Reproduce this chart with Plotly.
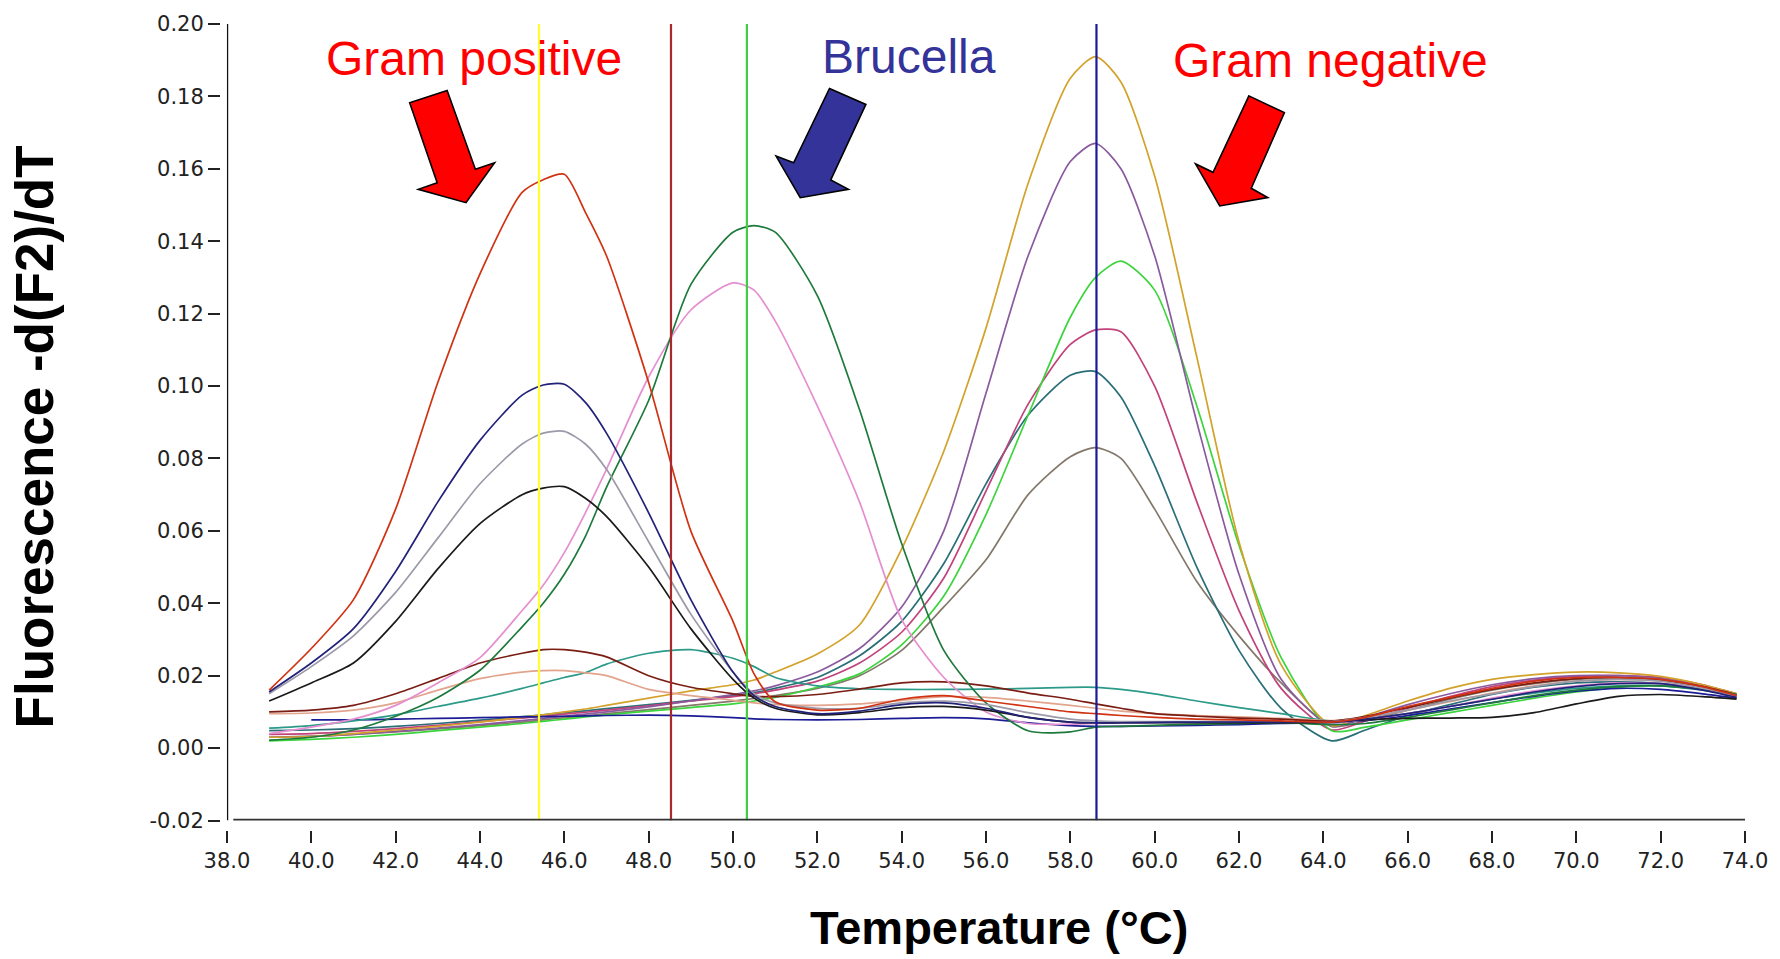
import plotly.graph_objects as go

# Temperature grid (deg C) shared by every melt curve
temps = [39.0, 40.0, 41.0, 42.0, 43.0, 44.0, 45.0, 45.5, 46.0, 46.5,
         47.0, 48.0, 49.0, 50.0, 50.5, 51.0, 52.0, 53.0, 54.0, 55.0,
         56.0, 57.0, 58.0, 58.6, 59.2, 60.0, 61.0, 62.0, 63.0, 64.2,
         65.0, 66.0, 67.0, 68.0, 69.0, 70.0, 71.0, 72.0, 73.0, 73.8]

# Gram-positive samples (-d(F2)/dT)
gp_red = [0.0160, 0.0275, 0.0410, 0.0660, 0.1010, 0.1310, 0.1535, 0.1570, 0.1585, 0.1480,
          0.1360, 0.1010, 0.0600, 0.0350, 0.0205, 0.0128, 0.0105, 0.0110, 0.0135, 0.0145,
          0.0130, 0.0115, 0.0100, 0.0095, 0.0090, 0.0085, 0.0080, 0.0078, 0.0075, 0.0072,
          0.0085, 0.0115, 0.0140, 0.0165, 0.0185, 0.0195, 0.0195, 0.0190, 0.0170, 0.0145]
gp_navy = [0.0155, 0.0235, 0.0330, 0.0488, 0.0680, 0.0850, 0.0975, 0.1003, 0.1005, 0.0955,
           0.0870, 0.0650, 0.0410, 0.0210, 0.0145, 0.0115, 0.0095, 0.0102, 0.0120, 0.0125,
           0.0110, 0.0085, 0.0072, 0.0070, 0.0070, 0.0071, 0.0072, 0.0072, 0.0072, 0.0072,
           0.0080, 0.0095, 0.0115, 0.0135, 0.0155, 0.0170, 0.0178, 0.0178, 0.0160, 0.0140]
gp_gray = [0.0150, 0.0225, 0.0310, 0.0430, 0.0580, 0.0730, 0.0840, 0.0870, 0.0875, 0.0840,
           0.0770, 0.0570, 0.0370, 0.0210, 0.0150, 0.0125, 0.0110, 0.0110, 0.0125, 0.0130,
           0.0120, 0.0098, 0.0080, 0.0075, 0.0073, 0.0073, 0.0073, 0.0073, 0.0073, 0.0073,
           0.0085, 0.0105, 0.0130, 0.0150, 0.0170, 0.0185, 0.0190, 0.0185, 0.0165, 0.0145]
gp_black = [0.0130, 0.0180, 0.0235, 0.0350, 0.0495, 0.0620, 0.0700, 0.0718, 0.0722, 0.0690,
            0.0640, 0.0500, 0.0330, 0.0190, 0.0138, 0.0110, 0.0092, 0.0098, 0.0112, 0.0115,
            0.0105, 0.0085, 0.0072, 0.0070, 0.0070, 0.0070, 0.0070, 0.0070, 0.0070, 0.0072,
            0.0078, 0.0082, 0.0083, 0.0085, 0.0098, 0.0122, 0.0143, 0.0148, 0.0142, 0.0135]
gp_maroon = [0.0100, 0.0105, 0.0118, 0.0150, 0.0192, 0.0235, 0.0262, 0.0272, 0.0272, 0.0265,
             0.0252, 0.0200, 0.0168, 0.0150, 0.0143, 0.0142, 0.0148, 0.0163, 0.0180, 0.0183,
             0.0172, 0.0152, 0.0135, 0.0122, 0.0110, 0.0095, 0.0088, 0.0083, 0.0080, 0.0075,
             0.0088, 0.0112, 0.0138, 0.0162, 0.0180, 0.0192, 0.0195, 0.0188, 0.0170, 0.0148]
gp_salmon = [0.0095, 0.0097, 0.0105, 0.0125, 0.0160, 0.0192, 0.0210, 0.0214, 0.0214, 0.0208,
             0.0200, 0.0162, 0.0145, 0.0132, 0.0125, 0.0120, 0.0118, 0.0122, 0.0132, 0.0142,
             0.0140, 0.0130, 0.0118, 0.0110, 0.0102, 0.0095, 0.0090, 0.0086, 0.0082, 0.0076,
             0.0085, 0.0105, 0.0128, 0.0152, 0.0172, 0.0185, 0.0190, 0.0185, 0.0168, 0.0148]

# Brucella samples
br_green = [0.0022, 0.0030, 0.0050, 0.0088, 0.0140, 0.0215, 0.0335, 0.0400, 0.0480, 0.0585,
            0.0720, 0.0960, 0.1280, 0.1425, 0.1443, 0.1425, 0.1250, 0.0935, 0.0565, 0.0270,
            0.0125, 0.0048, 0.0045, 0.0058, 0.0060, 0.0063, 0.0066, 0.0068, 0.0070, 0.0065,
            0.0068, 0.0085, 0.0105, 0.0125, 0.0145, 0.0160, 0.0170, 0.0172, 0.0162, 0.0148]
br_pink = [0.0040, 0.0058, 0.0080, 0.0118, 0.0180, 0.0250, 0.0380, 0.0450, 0.0540, 0.0650,
           0.0770, 0.1025, 0.1210, 0.1285, 0.1265, 0.1180, 0.0945, 0.0680, 0.0355, 0.0195,
           0.0100, 0.0068, 0.0066, 0.0068, 0.0070, 0.0071, 0.0072, 0.0072, 0.0072, 0.0070,
           0.0078, 0.0095, 0.0115, 0.0138, 0.0158, 0.0172, 0.0180, 0.0178, 0.0163, 0.0143]
br_teal = [0.0055, 0.0062, 0.0075, 0.0092, 0.0115, 0.0138, 0.0165, 0.0180, 0.0195, 0.0208,
           0.0232, 0.0262, 0.0272, 0.0248, 0.0225, 0.0195, 0.0172, 0.0164, 0.0162, 0.0162,
           0.0163, 0.0165, 0.0168, 0.0168, 0.0162, 0.0150, 0.0130, 0.0112, 0.0095, 0.0075,
           0.0080, 0.0095, 0.0115, 0.0135, 0.0152, 0.0165, 0.0172, 0.0172, 0.0160, 0.0145]

# Gram-negative samples
gn_gold = [0.0030, 0.0032, 0.0040, 0.0050, 0.0060, 0.0072, 0.0085, 0.0092, 0.0100, 0.0108,
           0.0118, 0.0138, 0.0158, 0.0175, 0.0188, 0.0210, 0.0260, 0.0340, 0.0550, 0.0820,
           0.1160, 0.1560, 0.1850, 0.1910, 0.1840, 0.1580, 0.1080, 0.0570, 0.0230, 0.0062,
           0.0090, 0.0130, 0.0165, 0.0190, 0.0203, 0.0210, 0.0208, 0.0198, 0.0175, 0.0150]
gn_purple = [0.0030, 0.0032, 0.0038, 0.0046, 0.0055, 0.0065, 0.0076, 0.0082, 0.0088, 0.0094,
             0.0100, 0.0114, 0.0130, 0.0148, 0.0158, 0.0172, 0.0210, 0.0275, 0.0390, 0.0600,
             0.0980, 0.1360, 0.1620, 0.1670, 0.1600, 0.1360, 0.0900, 0.0480, 0.0190, 0.0060,
             0.0085, 0.0120, 0.0150, 0.0175, 0.0192, 0.0200, 0.0200, 0.0192, 0.0172, 0.0145]
gn_lime = [0.0020, 0.0024, 0.0030, 0.0038, 0.0048, 0.0058, 0.0068, 0.0074, 0.0080, 0.0086,
           0.0092, 0.0102, 0.0112, 0.0122, 0.0130, 0.0140, 0.0168, 0.0205, 0.0285, 0.0420,
           0.0645, 0.0920, 0.1190, 0.1300, 0.1345, 0.1265, 0.0945, 0.0560, 0.0250, 0.0048,
           0.0058, 0.0078, 0.0098, 0.0118, 0.0138, 0.0155, 0.0168, 0.0172, 0.0162, 0.0150]
gn_magenta = [0.0038, 0.0040, 0.0046, 0.0054, 0.0063, 0.0073, 0.0083, 0.0088, 0.0094, 0.0099,
              0.0105, 0.0117, 0.0130, 0.0142, 0.0150, 0.0160, 0.0185, 0.0235, 0.0320, 0.0470,
              0.0710, 0.0950, 0.1115, 0.1155, 0.1150, 0.1000, 0.0680, 0.0380, 0.0165, 0.0050,
              0.0075, 0.0110, 0.0142, 0.0170, 0.0188, 0.0198, 0.0200, 0.0195, 0.0175, 0.0150]
gn_teal = [0.0048, 0.0050, 0.0054, 0.0060, 0.0068, 0.0077, 0.0087, 0.0092, 0.0098, 0.0103,
           0.0109, 0.0120, 0.0132, 0.0145, 0.0153, 0.0165, 0.0195, 0.0255, 0.0350, 0.0510,
           0.0730, 0.0920, 0.1030, 0.1040, 0.0970, 0.0780, 0.0500, 0.0270, 0.0110, 0.0020,
           0.0050, 0.0090, 0.0120, 0.0148, 0.0168, 0.0180, 0.0183, 0.0178, 0.0162, 0.0145]
gn_taupe = [0.0030, 0.0033, 0.0038, 0.0045, 0.0053, 0.0062, 0.0072, 0.0078, 0.0084, 0.0089,
            0.0095, 0.0106, 0.0118, 0.0130, 0.0137, 0.0145, 0.0165, 0.0200, 0.0270, 0.0390,
            0.0520, 0.0700, 0.0805, 0.0830, 0.0800, 0.0660, 0.0460, 0.0310, 0.0180, 0.0060,
            0.0075, 0.0105, 0.0135, 0.0160, 0.0178, 0.0190, 0.0192, 0.0186, 0.0168, 0.0145]

# Negative control (flat trace)
ctrl_navy = [None, 0.0078, 0.0078, 0.0080, 0.0082, 0.0084, 0.0086, 0.0087, 0.0088, 0.0089,
             0.0090, 0.0091, 0.0089, 0.0084, 0.0081, 0.0079, 0.0078, 0.0079, 0.0082, 0.0084,
             0.0081, 0.0070, 0.0062, 0.0060, 0.0060, 0.0061, 0.0063, 0.0065, 0.0068, 0.0070,
             0.0076, 0.0090, 0.0108, 0.0126, 0.0143, 0.0157, 0.0165, 0.0162, 0.0150, 0.0138]

# Melting-peak marker temperatures
marker_temps = [45.4, 48.53, 50.33, 58.62]

# Axis ticks
y_ticks = [-0.02, 0.00, 0.02, 0.04, 0.06, 0.08, 0.10, 0.12, 0.14, 0.16, 0.18, 0.20]
y_labels = ["-0.02", "0.00", "0.02", "0.04", "0.06", "0.08", "0.10",
            "0.12", "0.14", "0.16", "0.18", "0.20"]
x_ticks = [38, 40, 42, 44, 46, 48, 50, 52, 54, 56, 58, 60, 62, 64, 66, 68, 70, 72, 74]
x_labels = [f"{t:.1f}" for t in x_ticks]

# Group labels
group_labels = ["Gram positive", "Brucella", "Gram negative"]

# ---- styling ----
series = [
    (gn_taupe, "#83786a"), (gn_teal, "#2a6e78"), (gn_magenta, "#c2427c"),
    (gn_lime, "#3cd43c"), (gn_purple, "#8b5a9e"), (gn_gold, "#d2a22a"),
    (ctrl_navy, "#1c1c96"), (br_teal, "#2c9a88"), (gp_salmon, "#e2a48c"),
    (gp_maroon, "#7a1e14"), (br_pink, "#e58fd0"), (br_green, "#1e7a3c"),
    (gp_black, "#1a1a1a"), (gp_gray, "#9c9aa8"), (gp_navy, "#22227a"),
    (gp_red, "#d03212"),
]
marker_colors = ["#ffff33", "#a82a2c", "#44cc44", "#1a1a9a"]

W, H = 1780, 959
L, R, T, B = 220, 27, 23, 129
PW, PH = W - L - R, H - T - B


def px(xp):
    return (xp - L) / PW


def py(yp):
    return (H - B - yp) / PH


fig = go.Figure()
for vals, col in series:
    fig.add_trace(go.Scatter(
        x=temps, y=vals, mode="lines", connectgaps=False,
        line=dict(color=col, width=1.7, shape="spline", smoothing=0.7),
        hoverinfo="skip", showlegend=False))

shapes = []
# vertical melting-temperature markers
for t, col in zip(marker_temps, marker_colors):
    shapes.append(dict(type="line", xref="x", yref="y", x0=t, x1=t,
                       y0=y_ticks[0], y1=y_ticks[-1],
                       line=dict(color=col, width=2.2), layer="above"))
# axis lines
shapes.append(dict(type="line", xref="x", yref="y", x0=x_ticks[0], x1=x_ticks[0],
                   y0=y_ticks[0], y1=y_ticks[-1], line=dict(color="#111", width=2.5)))
shapes.append(dict(type="line", xref="x", yref="y", x0=x_ticks[0] + 0.15, x1=x_ticks[-1],
                   y0=y_ticks[0], y1=y_ticks[0], line=dict(color="#333", width=3.5)))

# block arrows pointing at each group of peaks (temperature, value outline)
arrows = [
    ([(42.333, 0.17822), (43.221, 0.18164), (43.891, 0.15985), (44.346, 0.16167),
      (43.669, 0.15065), (42.537, 0.15434), (42.985, 0.15616)], "#ff0000"),
    ([(52.289, 0.18219), (53.152, 0.17778), (52.319, 0.15691), (52.737, 0.15434),
      (51.595, 0.15203), (51.022, 0.16352), (51.439, 0.16167)], "#333399"),
    ([(62.235, 0.18015), (63.077, 0.17552), (62.291, 0.15462), (62.683, 0.15206),
      (61.543, 0.14974), (60.970, 0.16135), (61.385, 0.15903)], "#ff0000"),
]
for pts, col in arrows:
    path = "M " + " L ".join(f"{a},{b}" for a, b in pts) + " Z"
    shapes.append(dict(type="path", xref="x", yref="y", path=path,
                       fillcolor=col, line=dict(color="#000", width=1.6), layer="above"))

sans = "Liberation Sans, Arial, sans-serif"
annotations = [
    dict(text=group_labels[0], x=px(475), y=py(58), font=dict(family=sans, size=48, color="#ff0000")),
    dict(text=group_labels[1], x=px(913), y=py(56), font=dict(family=sans, size=48, color="#333399")),
    dict(text=group_labels[2], x=px(1336), y=py(60), font=dict(family=sans, size=48, color="#ff0000")),
    dict(text="<b>Temperature (°C)</b>", x=px(1003), y=py(928),
         font=dict(family=sans, size=47, color="#000")),
    dict(text="<b>Fluorescence -d(F2)/dT</b>", x=px(34), y=py(436), textangle=-90,
         font=dict(family=sans, size=53, color="#000")),
]
for a in annotations:
    a.update(xref="paper", yref="paper", showarrow=False, xanchor="center", yanchor="middle")

tick_font = dict(family="DejaVu Sans, Verdana, sans-serif", size=21, color="#222")
fig.update_layout(
    width=W, height=H, autosize=False,
    margin=dict(l=L, r=R, t=T, b=B, pad=0),
    paper_bgcolor="white", plot_bgcolor="white",
    shapes=shapes, annotations=annotations,
    xaxis=dict(range=[37.99999, 74.00001], domain=[(227 - L) / PW, 1],
               anchor="free", position=0,
               tickmode="array", tickvals=x_ticks, ticktext=x_labels,
               ticks="outside", ticklen=12, tickwidth=2, tickcolor="#222",
               showgrid=False, zeroline=False, showline=False, tickfont=tick_font),
    yaxis=dict(range=[-0.0200001, 0.2000001], domain=[9.5 / PH, 1],
               anchor="free", position=0,
               tickmode="array", tickvals=y_ticks, ticktext=y_labels,
               ticks="outside", ticklen=12, tickwidth=2, tickcolor="#222",
               showgrid=False, zeroline=False, showline=False, tickfont=tick_font),
)

fig.write_html("out.html")
